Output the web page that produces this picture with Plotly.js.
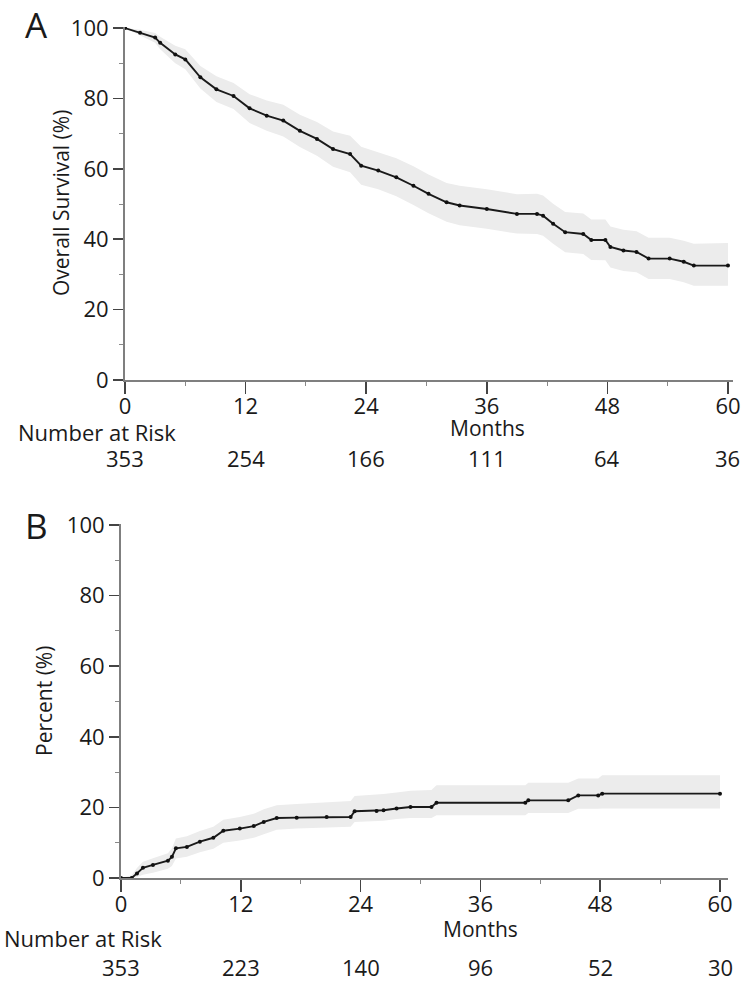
<!DOCTYPE html>
<html>
<head>
<meta charset="utf-8">
<script src="https://cdn.plot.ly/plotly-3.0.1.min.js"></script>
<style>html,body{margin:0;padding:0;background:#fff;}#chart{width:750px;height:981px;}</style>
</head>
<body>
<div id="chart"></div>
<script>
// ---- Panel A: Overall survival ----
const monthsA = [0, 1.5, 3.0, 3.5, 5.0, 6.0, 7.5, 9.1, 10.8, 12.4, 14.1, 15.75, 17.4, 19.1, 20.7, 22.4, 23.5, 25.2, 27.0, 28.7, 30.2, 32.0, 33.3, 36.0, 39.0, 41.0, 41.6, 42.6, 43.8, 45.6, 46.4, 47.8, 48.3, 49.6, 50.9, 52.1, 54.2, 55.6, 56.6, 60];
const survA   = [100, 98.7, 97.3, 95.8, 92.5, 91.1, 86.0, 82.6, 80.7, 77.2, 75.1, 73.7, 70.8, 68.5, 65.6, 64.2, 60.9, 59.5, 57.6, 55.2, 52.9, 50.5, 49.6, 48.6, 47.2, 47.2, 46.7, 44.4, 42.0, 41.5, 39.8, 39.8, 37.8, 36.8, 36.4, 34.5, 34.5, 33.6, 32.5, 32.5];
const survLoA = [100, 97.8, 95.8, 94.0, 90.0, 88.3, 82.8, 79.0, 77.0, 73.0, 70.8, 69.2, 66.2, 63.7, 60.6, 59.0, 55.5, 54.2, 52.2, 49.7, 47.4, 45.0, 44.0, 43.0, 41.6, 41.5, 41.0, 38.7, 36.3, 35.8, 34.1, 34.0, 32.0, 31.0, 30.6, 28.7, 28.7, 27.8, 26.8, 26.8];
const survHiA = [100, 99.5, 98.6, 97.5, 95.0, 94.0, 89.2, 86.3, 84.4, 81.2, 79.4, 78.2, 75.4, 73.3, 70.6, 69.4, 66.3, 64.8, 63.0, 60.7, 58.4, 56.0, 55.2, 54.2, 52.8, 52.9, 52.4, 50.1, 47.7, 47.3, 45.6, 45.6, 43.6, 42.7, 42.3, 40.4, 40.4, 39.6, 38.7, 38.9];
const riskA = [353, 254, 166, 111, 64, 36];

// ---- Panel B: Cumulative incidence ----
const monthsB = [0, 1.07, 1.6, 2.2, 3.2, 4.7, 5.1, 5.5, 6.6, 7.9, 9.25, 10.25, 11.9, 13.3, 14.3, 15.6, 17.6, 20.6, 23.0, 23.4, 25.6, 26.3, 27.6, 29.0, 31.1, 31.6, 40.5, 40.8, 44.8, 45.8, 47.8, 48.2, 60];
const pctB    = [0, 0, 1.3, 2.9, 3.7, 4.9, 6.0, 8.4, 8.8, 10.3, 11.4, 13.4, 14.0, 14.7, 15.9, 17.0, 17.1, 17.3, 17.3, 18.9, 19.0, 19.2, 19.7, 20.1, 20.1, 21.3, 21.3, 22.0, 22.0, 23.4, 23.4, 23.9, 23.9];
const pctLoB  = [0, 0, 0.3, 0.9, 1.5, 2.6, 3.4, 5.5, 6.0, 7.3, 8.3, 10.0, 10.6, 11.4, 12.4, 13.7, 14.0, 14.3, 14.5, 15.9, 16.0, 16.2, 16.7, 17.0, 17.0, 17.8, 17.8, 18.4, 18.4, 19.6, 19.6, 19.7, 19.7];
const pctHiB  = [0, 0.8, 2.8, 4.6, 5.6, 7.0, 8.4, 11.2, 11.8, 13.3, 14.5, 16.5, 17.3, 18.2, 19.5, 20.6, 21.0, 21.5, 21.8, 23.2, 23.5, 23.8, 24.2, 24.7, 24.9, 26.3, 26.3, 27.0, 27.0, 28.2, 28.2, 29.1, 29.1];
const riskB = [353, 223, 140, 96, 52, 30];

const xTicks = [0, 12, 24, 36, 48, 60];
const yTicks = [0, 20, 40, 60, 80, 100];

const W = 750, H = 981;
const px = v => v / W;
const py = v => 1 - v / H;

const FONT = '"Open Sans", "Noto Sans", sans-serif';
const TXT = '#1a1a1a';
const BAND = '#ececec';

function bandTraces(x, lo, hi, xa, ya) {
  return [
    {x: x, y: lo, xaxis: xa, yaxis: ya, type: 'scatter', mode: 'lines', line: {width: 0, color: BAND}, hoverinfo: 'skip', showlegend: false},
    {x: x, y: hi, xaxis: xa, yaxis: ya, type: 'scatter', mode: 'lines', line: {width: 0, color: BAND}, fill: 'tonexty', fillcolor: BAND, hoverinfo: 'skip', showlegend: false}
  ];
}
function curveTrace(x, y, xa, ya) {
  return {x: x, y: y, xaxis: xa, yaxis: ya, type: 'scatter', mode: 'lines+markers',
    line: {color: '#1a1a1a', width: 1.9}, marker: {color: '#111', size: 4}, showlegend: false};
}

const data = [
  ...bandTraces(monthsA, survLoA, survHiA, 'x', 'y'),
  curveTrace(monthsA, survA, 'x', 'y'),
  ...bandTraces(monthsB, pctLoB, pctHiB, 'x2', 'y2'),
  curveTrace(monthsB, pctB, 'x2', 'y2')
];

function xAxis(domain, range, anchor) {
  return {
    domain: domain, range: range, anchor: anchor,
    tickmode: 'array', tickvals: xTicks, ticktext: xTicks.map(String),
    ticks: 'outside', ticklen: 12, tickwidth: 1.5, tickcolor: '#444',
    ticklabelstandoff: -6,
    showline: true, linecolor: '#7f7f7f', linewidth: 2,
    showgrid: false, zeroline: false,
    tickfont: {family: FONT, size: 22, color: TXT},
    minor: {dtick: 6, tick0: 0, ticks: 'outside', ticklen: 4, tickwidth: 1, tickcolor: '#888'}
  };
}
function yAxis(domain, anchor) {
  return {
    domain: domain, range: [0, 100.3], anchor: anchor,
    tickmode: 'array', tickvals: yTicks, ticktext: yTicks.map(String),
    ticks: 'outside', ticklen: 10, tickwidth: 1.5, tickcolor: '#444',
    showline: true, linecolor: '#7f7f7f', linewidth: 2,
    showgrid: false, zeroline: false,
    tickfont: {family: FONT, size: 22, color: TXT},
    minor: {dtick: 10, tick0: 0, ticks: 'outside', ticklen: 4, tickwidth: 1, tickcolor: '#888'}
  };
}

const annotations = [];
function addText(text, x, y, size, opts) {
  annotations.push(Object.assign({text: text, x: x, y: y, xref: 'paper', yref: 'paper',
    showarrow: false, xanchor: 'center', yanchor: 'middle', borderpad: 0,
    font: {family: FONT, size: size, color: TXT}}, opts || {}));
}
// Panel letters
addText('A', px(36), py(24), 35);
addText('B', px(36), py(525), 35);
// Y titles
addText('Overall Survival (%)', px(61), py(203), 21, {textangle: -90});
addText('Percent (%)', px(44), py(701), 21, {textangle: -90});
// Months labels
addText('Months', px(487), py(428), 21);
addText('Months', px(480), py(929), 21);
// Number at risk labels
addText('Number at Risk', px(17), py(432), 22, {xanchor: 'left'});
addText('Number at Risk', px(3), py(938), 22, {xanchor: 'left'});
// Risk numbers
riskA.forEach((n, i) => annotations.push({text: String(n), x: xTicks[i], y: py(458), xref: 'x', yref: 'paper',
  showarrow: false, xanchor: 'center', yanchor: 'middle', font: {family: FONT, size: 22, color: TXT}}));
riskB.forEach((n, i) => annotations.push({text: String(n), x: xTicks[i], y: py(967), xref: 'x2', yref: 'paper',
  showarrow: false, xanchor: 'center', yanchor: 'middle', font: {family: FONT, size: 22, color: TXT}}));

const layout = {
  width: W, height: H,
  margin: {l: 0, r: 0, t: 0, b: 0},
  paper_bgcolor: '#fff', plot_bgcolor: '#fff',
  showlegend: false,
  xaxis: xAxis([px(125), px(733)], [0, 60.5], 'y'),
  yaxis: yAxis([py(380), py(27)], 'x'),
  xaxis2: xAxis([px(121), px(728)], [0, 60.8], 'y2'),
  yaxis2: yAxis([py(878), py(524)], 'x2'),
  annotations: annotations
};

Plotly.newPlot('chart', data, layout, {staticPlot: true, displayModeBar: false});
</script>
</body>
</html>
